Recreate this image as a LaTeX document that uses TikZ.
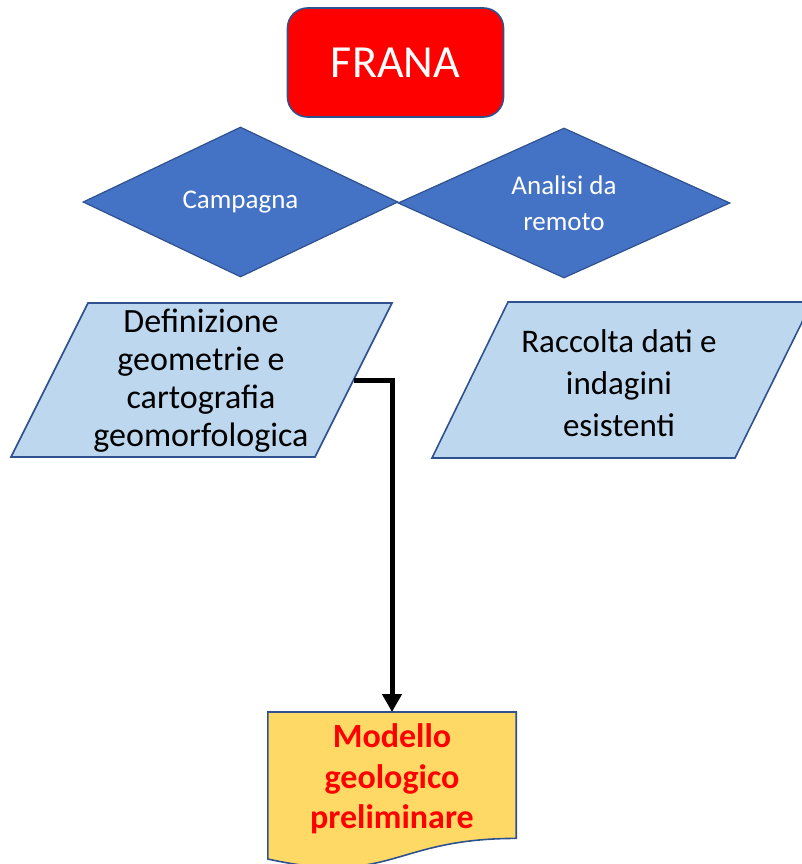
\documentclass[tikz,border=0pt]{standalone}
\usepackage{fontspec}
\setmainfont{Carlito}
\usetikzlibrary{calc,arrows.meta,shapes.geometric,backgrounds}
\definecolor{frame}{HTML}{2F528F}
\definecolor{boxblue}{HTML}{4472C4}
\definecolor{lightblue}{HTML}{BDD7EE}
\definecolor{gold}{HTML}{FFD966}

\begin{document}
\begin{tikzpicture}[x=1pt,y=-1pt]
\tikzstyle{startbox}=[draw=frame,line width=1.6pt,fill=red,rounded corners=20pt,minimum width=216pt,minimum height=109pt,text=white,font=\fontsize{46}{55}\selectfont]
\tikzstyle{choice}=[diamond,aspect=2.2,draw=frame,line width=1.2pt,fill=boxblue,inner sep=0pt,text=white,align=center,font=\fontsize{27}{36}\selectfont]
\tikzstyle{datatext}=[align=center,font=\fontsize{34}{38}\selectfont]
\tikzstyle{datashape}=[draw=frame,line width=1.6pt,fill=lightblue]
\tikzstyle{doc}=[minimum width=248pt,minimum height=134pt,inner sep=0pt,anchor=north,align=center,text=red,font=\bfseries\fontsize{34}{40.5}\selectfont]
\useasboundingbox (0,0) rectangle (802,864);
\node[startbox] (frana) at (395.5,62.5) {FRANA};
\node[choice,minimum width=315pt,minimum height=150pt] (campagna) at (240.5,202) {Campagna};
\node[choice,minimum width=332pt,minimum height=150pt] (remoto) at (564,203) {Analisi da\\remoto};
% parallelogrammi
\draw[datashape] (88,303) -- (392,303) -- (315,457) -- (11,457) -- cycle;
\draw[datashape] (508,302) -- (812,302) -- (735,458) -- (432,458) -- cycle;
\node[datatext] (geometrie) at (201,381) {Definizione\\geometrie e\\cartografia\\geomorfologica};
\node[datatext,font=\fontsize{33}{42}\selectfont] (indagini) at (619,383) {Raccolta dati e\\indagini\\esistenti};
\coordinate (uscita) at (353.5,380);
% documento
\node[doc] (modello) at (392,712) {Modello\\geologico\\preliminare};
\begin{scope}[on background layer]
\draw[line width=1.6pt,draw=frame,fill=gold] (modello.north west) -- (modello.north east) -- ($(modello.south east)+(0,-8)$) .. controls ($(modello.south)+(0,-8)$) and ($(modello.south)+(0,40)$) .. ($(modello.south west)+(0,12.6)$) -- cycle;
\end{scope}
\draw[line width=5pt,-{Triangle[width=19pt,length=18pt]}] (uscita) -| (modello.north);
\end{tikzpicture}
\end{document}
